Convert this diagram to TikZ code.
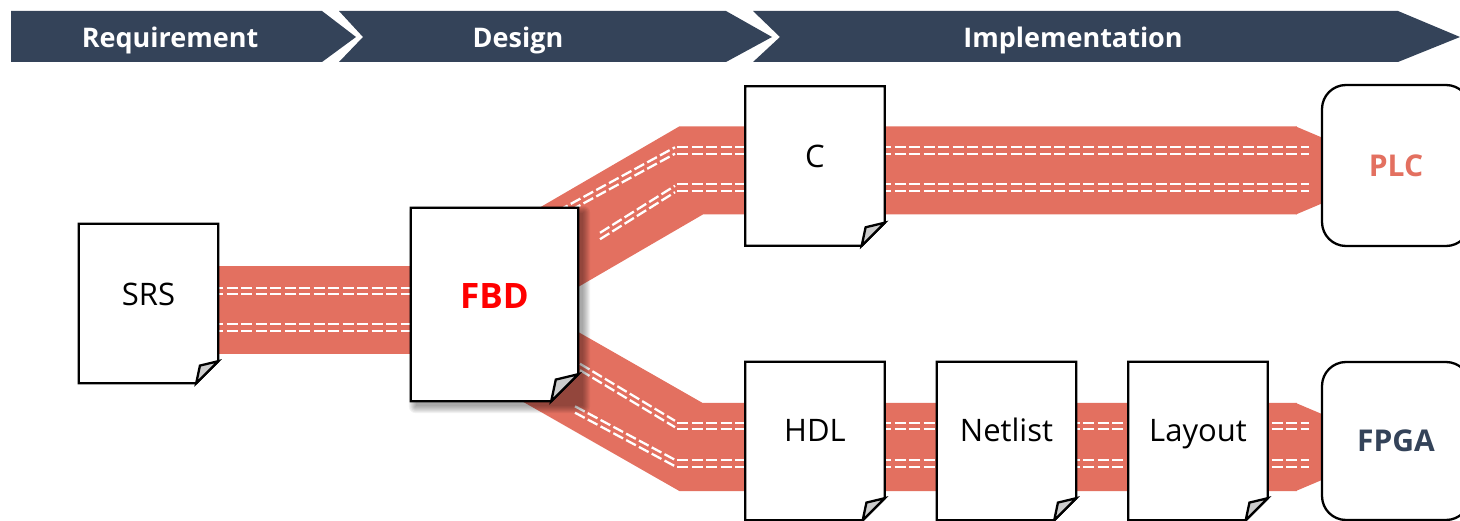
\documentclass[tikz,border=0pt]{standalone}
\usepackage{fontspec}
\setmainfont{Open Sans}
\usetikzlibrary{calc}
\pgfdeclarelayer{ribbons}
\pgfdeclarelayer{sheets}
\pgfsetlayers{ribbons,sheets,main}

\definecolor{slate}{RGB}{52,67,89}
\definecolor{salmon}{RGB}{227,112,96}
\definecolor{flapgray}{RGB}{204,204,204}
\definecolor{fbdred}{RGB}{255,0,0}

% sheet of paper with a folded bottom-right corner, drawn around a node
% #1 node name, #2 fold size (pt)
\newcommand\docsheet[2]{%
  \filldraw[sheetline, fill=white] (#1.north west) -- (#1.north east)
    -- ([yshift=#2pt]#1.south east) -- ([xshift=-#2pt]#1.south east)
    -- (#1.south west) -- cycle;
  \filldraw[sheetline, fill=flapgray] ([yshift=#2pt]#1.south east)
    -- ([xshift=-0.83*#2pt, yshift=0.8*#2pt]#1.south east)
    -- ([xshift=-#2pt]#1.south east) -- cycle;
}

% tapered end of a ribbon where it enters a box; #1 is the entry point
\newcommand\ribbontip[1]{%
  \fill[salmon] ($(#1)+(-25,-44)$) -- ($(#1)+(1,-33)$)
    -- ($(#1)+(1,33)$) -- ($(#1)+(-25,44)$) -- cycle;
}

% a pair of white dashed seam lines along a path
\newcommand\seampair[1]{%
  \foreach \s in {-3.2,3.2}{\draw[seam, yshift=\s pt] #1;}
}

\begin{document}
\begin{tikzpicture}[x=1pt, y=-1pt,
  phase/.style={text=white, inner sep=0pt, anchor=base,
    font=\bfseries\fontsize{27pt}{27pt}\selectfont},
  sheet/.style={rectangle, inner sep=0pt, text depth=0pt,
    minimum width=139pt, minimum height=159pt,
    font=\fontsize{31pt}{31pt}\selectfont},
  sheetline/.style={draw=black, line width=2.3pt, line join=miter},
  target/.style={rectangle, draw=black, fill=white, line width=2.3pt,
    rounded corners=24pt, minimum width=148pt, inner sep=0pt,
    font=\bfseries\fontsize{30pt}{30pt}\selectfont},
  ribbon/.style={draw=salmon, line width=88pt, line join=miter},
  seam/.style={draw=white, line width=2.3pt, dash pattern=on 11pt off 3.5pt}]

\useasboundingbox (0,0) rectangle (1460,521);

% phase banner
\fill[slate] (11,11) -- (322,11) -- (356,37) -- (322,62) -- (11,62) -- cycle;
\fill[slate] (339,11) -- (726,11) -- (772,37) -- (726,62) -- (339,62) -- (363,37) -- cycle;
\fill[slate] (753,11) -- (1398,11) -- (1460,37) -- (1398,62) -- (753,62) -- (780,37) -- cycle;
\node[phase] (req) at (170,48) {Requirement};
\node[phase] (des) at (518,48) {Design};
\node[phase] (imp) at (1073,48) {Implementation};

% documents
\node[sheet, text height=4.4pt] (srs) at (148.5,303.5) {SRS};
\node[sheet, minimum width=167pt, minimum height=193pt, text height=8pt,
  text=fbdred, font=\bfseries\fontsize{35pt}{35pt}\selectfont] (fbd) at (494.5,304.5) {FBD};
\node[sheet, text height=3.4pt] (c) at (815,166) {C};
\node[sheet, minimum height=158pt, text height=1.4pt] (hdl) at (815,441) {HDL};
\node[sheet, minimum height=158pt, text height=1.4pt] (net) at (1006.5,441) {Netlist};
\node[sheet, minimum height=158pt, text height=1.4pt] (lay) at (1198,441) {Layout};

% targets
\node[target, minimum height=161pt, text=salmon] (plc) at (1396,165.5) {PLC};
\node[target, minimum height=158pt, text=slate] (fpga) at (1396,441) {FPGA};

% sheets with folded corners
\begin{pgfonlayer}{sheets}
  \foreach \k in {0,...,7}
    \fill[black, opacity=0.05, rounded corners=\k pt]
      ($(fbd.north west)+(5-\k,5-\k)$) rectangle ($(fbd.south east)+(5+\k,5+\k)$);
  \docsheet{srs}{22}
  \docsheet{fbd}{27}
  \docsheet{c}{23}
  \docsheet{hdl}{22}
  \docsheet{net}{22}
  \docsheet{lay}{22}
\end{pgfonlayer}

% data flow ribbons
\begin{pgfonlayer}{ribbons}
  \coordinate (split) at (451,310);
  \coordinate (upbend) at (691,170.5);
  \coordinate (lowbend) at (691,447);
  \coordinate (plcin) at (plc.west |- upbend);
  \coordinate (fpgain) at (fpga.west |- lowbend);

  \draw[ribbon] (srs.center |- split) -- (split);
  \draw[ribbon] (split) -- (upbend) -- ($(plcin)+(-24,0)$);
  \draw[ribbon] (split) -- (lowbend) -- ($(fpgain)+(-24,0)$);
  \ribbontip{plcin}
  \ribbontip{fpgain}

  % seams
  \seampair{(212,291) -- (415,291)}
  \seampair{(212,327.5) -- (415,327.5)}
  \seampair{(558,214) -- (675,150.5)}
  \seampair{(600,236) -- (675,189)}
  \seampair{(677,150.5) -- (1309,150.5)}
  \seampair{(677,187.5) -- (1309,187.5)}
  \seampair{(580,367) -- (675,424)}
  \seampair{(575,409.5) -- (675,463)}
  \seampair{(677,426) -- (1309,426)}
  \seampair{(677,463.5) -- (1309,463.5)}
\end{pgfonlayer}
\end{tikzpicture}
\end{document}
